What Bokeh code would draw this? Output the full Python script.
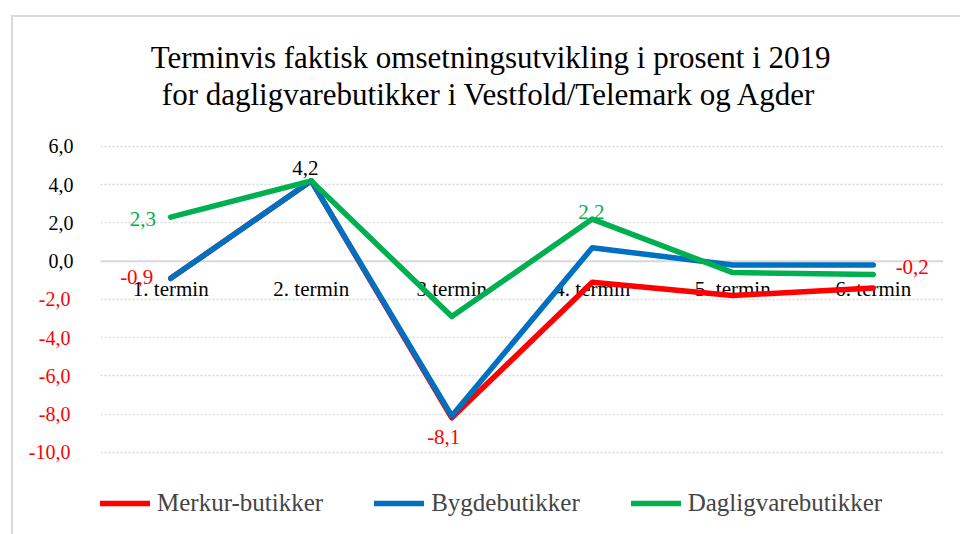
from bokeh.plotting import figure
from bokeh.models import (FactorRange, Range1d, FixedTicker, Span, Legend, LegendItem,
                          Title, LinearAxis, ColumnDataSource, InlineStyleSheet)
from bokeh.core.properties import value
from bokeh.embed import file_html
from bokeh.resources import INLINE

# ---------------- data ----------------
categories = ["1. termin", "2. termin", "3.termin", "4. termin", "5. termin", "6. termin"]
merkur = [-0.9, 4.2, -8.2, -1.1, -1.8, -1.4]
bygde = [-0.9, 4.2, -8.1, 0.7, -0.2, -0.2]
dagligvare = [2.3, 4.2, -2.9, 2.2, -0.6, -0.7]
series_names = ["Merkur-butikker", "Bygdebutikker", "Dagligvarebutikker"]

y_ticks = [-10, -8, -6, -4, -2, 0, 2, 4, 6]
y_tick_labels = ["-10,0", "-8,0", "-6,0", "-4,0", "-2,0", "0,0", "2,0", "4,0", "6,0"]

title_lines = ["Terminvis faktisk omsetningsutvikling i prosent i 2019",
               "for dagligvarebutikker i Vestfold/Telemark og Agder"]

# data labels: text, category index, series index
label_texts = ["-0,9", "2,3", "4,2", "-8,1", "2,2", "-0,2"]
label_cat = [0, 0, 1, 2, 3, 5]
label_series = [0, 2, 0, 0, 2, 1]

# ---------------- styles ----------------
FONT = "Liberation Serif"
colors = ["#FF0000", "#0070C0", "#00B050"]
label_colors = ["#FF0000", "#00B050", "#000000", "#FF0000", "#00B050", "#FF0000"]
label_dx = [-34, -28, -6, -8, -1, 39]
label_dy = [-1, 2, -13, 19, -7, 2]

all_series = [merkur, bygde, dagligvare]

sheet = InlineStyleSheet(css=":host { background: "
                         "linear-gradient(#d9d9d9,#d9d9d9) 11px 15px / 100% 2px no-repeat, "
                         "linear-gradient(#d9d9d9,#d9d9d9) 11px 15px / 2px 100% no-repeat, #ffffff; }")

# y range runs below -10 so that the legend sits inside the plotting frame
p = figure(x_range=FactorRange(*categories), y_range=Range1d(-14.3, 6.05),
           width=960, height=534, output_backend="svg", toolbar_location=None,
           min_border_left=100, min_border_right=17, min_border_top=145,
           min_border_bottom=0, title=None, stylesheets=[sheet])
p.border_fill_color = None
p.background_fill_color = "#ffffff"
p.outline_line_color = None
p.below = []
p.xgrid.visible = False

p.ygrid.ticker = FixedTicker(ticks=y_ticks)
p.ygrid.grid_line_color = "#d9d9d9"
p.ygrid.grid_line_dash = "2 2"
p.ygrid.grid_line_width = 1.5

zero = Span(location=0, dimension="width", line_color="#d9d9d9", line_width=2, level="underlay")
p.add_layout(zero)

# inner axis: non-negative labels in black
yax = p.yaxis[0]
yax.ticker = FixedTicker(ticks=y_ticks)
yax.major_label_overrides = {t: (lab if t >= 0 else "") for t, lab in zip(y_ticks, y_tick_labels)}
# outer axis: negative labels in red, pulled back onto the same column
yax2 = LinearAxis(ticker=FixedTicker(ticks=y_ticks),
                  major_label_overrides={t: (lab if t < 0 else "") for t, lab in zip(y_ticks, y_tick_labels)})
p.add_layout(yax2, "left")
for ax, col, so in [(yax, "#000000", 27), (yax2, "#FF0000", -25)]:
    ax.axis_line_color = None
    ax.major_tick_line_color = None
    ax.minor_tick_line_color = None
    ax.major_tick_out = 0
    ax.major_tick_in = 0
    ax.major_label_standoff = so
    ax.major_label_text_font = FONT
    ax.major_label_text_font_size = "20px"
    ax.major_label_text_color = col

# category labels at the zero line
cat_src = ColumnDataSource(dict(x=categories, y=[0] * len(categories), text=categories))
p.text(x="x", y="y", text="text", source=cat_src, text_align="center",
       text_baseline="middle", y_offset=28, text_color="#000000",
       text_font=value(FONT), text_font_size="21px")

renderers = []
for vals, c in zip(all_series, colors):
    r = p.line(categories, vals, line_color=c, line_width=5.5, line_join="round", line_cap="round")
    renderers.append(r)

lab_src = ColumnDataSource(dict(
    x=[categories[i] for i in label_cat],
    y=[all_series[s][i] for s, i in zip(label_series, label_cat)],
    text=label_texts, color=label_colors, dx=label_dx, dy=label_dy))
p.text(x="x", y="y", text="text", source=lab_src, text_align="center",
       text_baseline="middle", x_offset="dx", y_offset="dy", text_color="color",
       text_font=value(FONT), text_font_size="21px")

legend = Legend(items=[LegendItem(label=n, renderers=[r]) for n, r in zip(series_names, renderers)],
                orientation="horizontal", location=(0, 17), padding=0, margin=0,
                spacing=51, glyph_width=50, glyph_height=20, label_standoff=7,
                border_line_color=None, background_fill_alpha=0,
                label_text_font=FONT, label_text_font_size="25px")
p.add_layout(legend)

p.add_layout(Title(text=" ", text_font_size="1px", standoff=31), "above")
p.add_layout(Title(text=title_lines[1], align="right", offset=127, text_font=FONT,
                   text_font_size="31px", text_font_style="normal", text_color="#000000",
                   standoff=0), "above")
p.add_layout(Title(text=title_lines[0], align="right", offset=113, text_font=FONT,
                   text_font_size="31px", text_font_style="normal", text_color="#000000",
                   standoff=0), "above")

open("out.html", "w").write(file_html(p, INLINE))
